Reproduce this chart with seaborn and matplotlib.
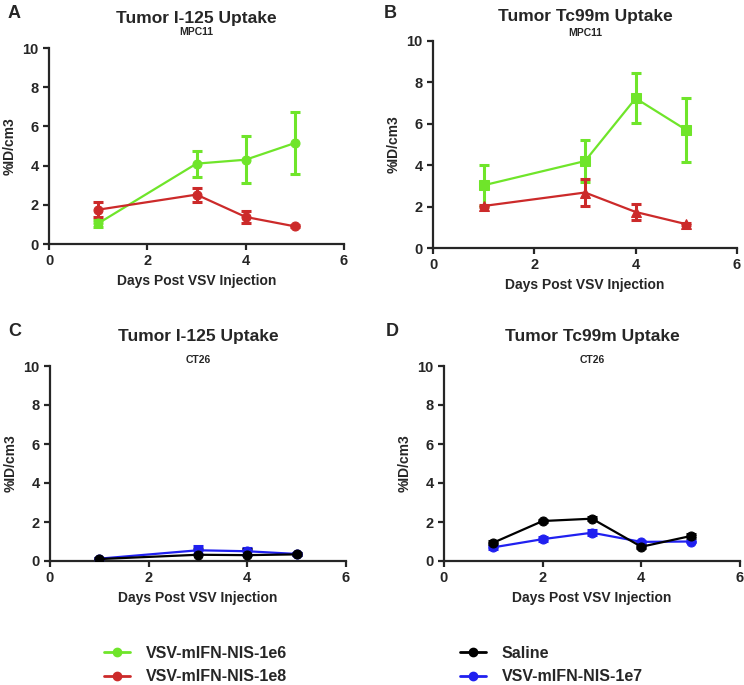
import numpy as np
import pandas as pd
import matplotlib
matplotlib.use("Agg")
import matplotlib.pyplot as plt
import seaborn as sns
from matplotlib.lines import Line2D

# Du lieu doc tu hinh
days_a = [1, 3, 4, 5]
a_1e6 = [1.05, 4.1, 4.3, 5.15]
a_1e6_err = [0.18, 0.67, 1.2, 1.58]
a_1e8 = [1.75, 2.52, 1.38, 0.9]
a_1e8_err = [0.38, 0.36, 0.3, 0.05]

days_b = [1, 3, 4, 5]
b_1e6 = [3.03, 4.2, 7.23, 5.7]
b_1e6_err = [1.0, 1.02, 1.2, 1.55]
b_1e8 = [2.03, 2.68, 1.74, 1.15]
b_1e8_err = [0.05, 0.65, 0.38, 0.05]

days_c = [1, 3, 4, 5]
c_saline = [0.1, 0.32, 0.3, 0.34]
c_saline_err = [0.05, 0.32, 0.33, 0.05]
c_1e7 = [0.12, 0.55, 0.5, 0.36]
c_1e7_err = [0.05, 0.2, 0.18, 0.05]

days_d = [1, 2, 3, 4, 5]
d_saline = [0.94, 2.05, 2.17, 0.73, 1.28]
d_saline_err = [0.08, 0.06, 0.08, 0.08, 0.1]
d_1e7 = [0.7, 1.12, 1.45, 0.98, 1.0]
d_1e7_err = [0.06, 0.1, 0.12, 0.06, 0.05]

GREEN = "#6FE52A"
RED = "#CC2A2A"
BLUE = "#2020F0"
BLACK = "#000000"

sns.set_style("ticks")
plt.rcParams['font.family'] = ['Liberation Sans', 'DejaVu Sans']
plt.rcParams['font.weight'] = 'bold'

fig = plt.figure(figsize=(7.44, 6.85), dpi=100)
W, H = 744, 685


def px_axes(left, top, right, bottom):
    return fig.add_axes([left / W, 1 - bottom / H, (right - left) / W, (bottom - top) / H])


def draw_series(ax, days, vals, errs, color, marker):
    df = pd.DataFrame({"day": days, "val": vals})
    ax.errorbar(days, vals, yerr=errs, fmt="none", ecolor=color, elinewidth=2.2,
                capsize=3.5, capthick=2.2, zorder=2)
    sns.lineplot(data=df, x="day", y="val", ax=ax, color=color, marker=marker,
                 markersize=6.5, markeredgecolor=color, linewidth=1.6, zorder=3)


def style_axes(ax, title, sub, letter, lx, ly, title_y, sub_y):
    ax.set_xlim(0, 6)
    ax.set_ylim(0, 10)
    ax.set_xticks([0, 2, 4, 6])
    ax.set_yticks([0, 2, 4, 6, 8, 10])
    sns.despine(ax=ax)
    for s in ["left", "bottom"]:
        ax.spines[s].set_linewidth(1.6)
    ax.tick_params(width=1.6, length=4, labelsize=10.5)
    for lab in ax.get_xticklabels() + ax.get_yticklabels():
        lab.set_fontweight("bold")
    ax.set_xlabel("Days Post VSV Injection", fontsize=10, fontweight="bold", labelpad=4)
    ax.set_ylabel("%ID/cm3", fontsize=10, fontweight="bold", labelpad=4)
    bb = ax.get_position()
    cx = (bb.x0 + bb.x1) / 2
    fig.text(cx, 1 - title_y / H, title, ha="center", va="center",
             fontsize=12.5, fontweight="bold")
    fig.text(cx, 1 - sub_y / H, sub, ha="center", va="center",
             fontsize=7.5, fontweight="bold")
    fig.text(lx / W, 1 - ly / H, letter, ha="left", va="center",
             fontsize=13, fontweight="bold")


axA = px_axes(49, 48, 344, 244)
draw_series(axA, days_a, a_1e6, a_1e6_err, GREEN, "o")
draw_series(axA, days_a, a_1e8, a_1e8_err, RED, "o")
style_axes(axA, "Tumor I-125 Uptake", "MPC11", "A", 8, 14, 18, 32)

axB = px_axes(433, 41, 737, 248)
draw_series(axB, days_b, b_1e6, b_1e6_err, GREEN, "s")
draw_series(axB, days_b, b_1e8, b_1e8_err, RED, "^")
style_axes(axB, "Tumor Tc99m Uptake", "MPC11", "B", 384, 14, 17, 33)

axC = px_axes(50, 366, 346, 561)
draw_series(axC, days_c, c_1e7, c_1e7_err, BLUE, "o")
draw_series(axC, days_c, c_saline, c_saline_err, BLACK, "o")
style_axes(axC, "Tumor I-125 Uptake", "CT26", "C", 8, 332, 336, 360)

axD = px_axes(444, 366, 740, 561)
draw_series(axD, days_d, d_1e7, d_1e7_err, BLUE, "o")
draw_series(axD, days_d, d_saline, d_saline_err, BLACK, "o")
style_axes(axD, "Tumor Tc99m Uptake", "CT26", "D", 386, 332, 336, 360)

# Chu thich
def handle(color):
    return Line2D([], [], color=color, marker="o", markersize=6, linewidth=2)

leg_kw = dict(loc="center left", frameon=False, prop={"size": 11.5, "weight": "bold"},
              handlelength=1.6, handletextpad=1.0, labelspacing=0.55)
fig.legend([handle(GREEN), handle(RED)], ["VSV-mIFN-NIS-1e6", "VSV-mIFN-NIS-1e8"],
           bbox_to_anchor=(90 / W, 1 - 665 / H), **leg_kw)
fig.legend([handle(BLACK), handle(BLUE)], ["Saline", "VSV-mIFN-NIS-1e7"],
           bbox_to_anchor=(446 / W, 1 - 665 / H), **leg_kw)

fig.savefig("out.png", dpi=100)
